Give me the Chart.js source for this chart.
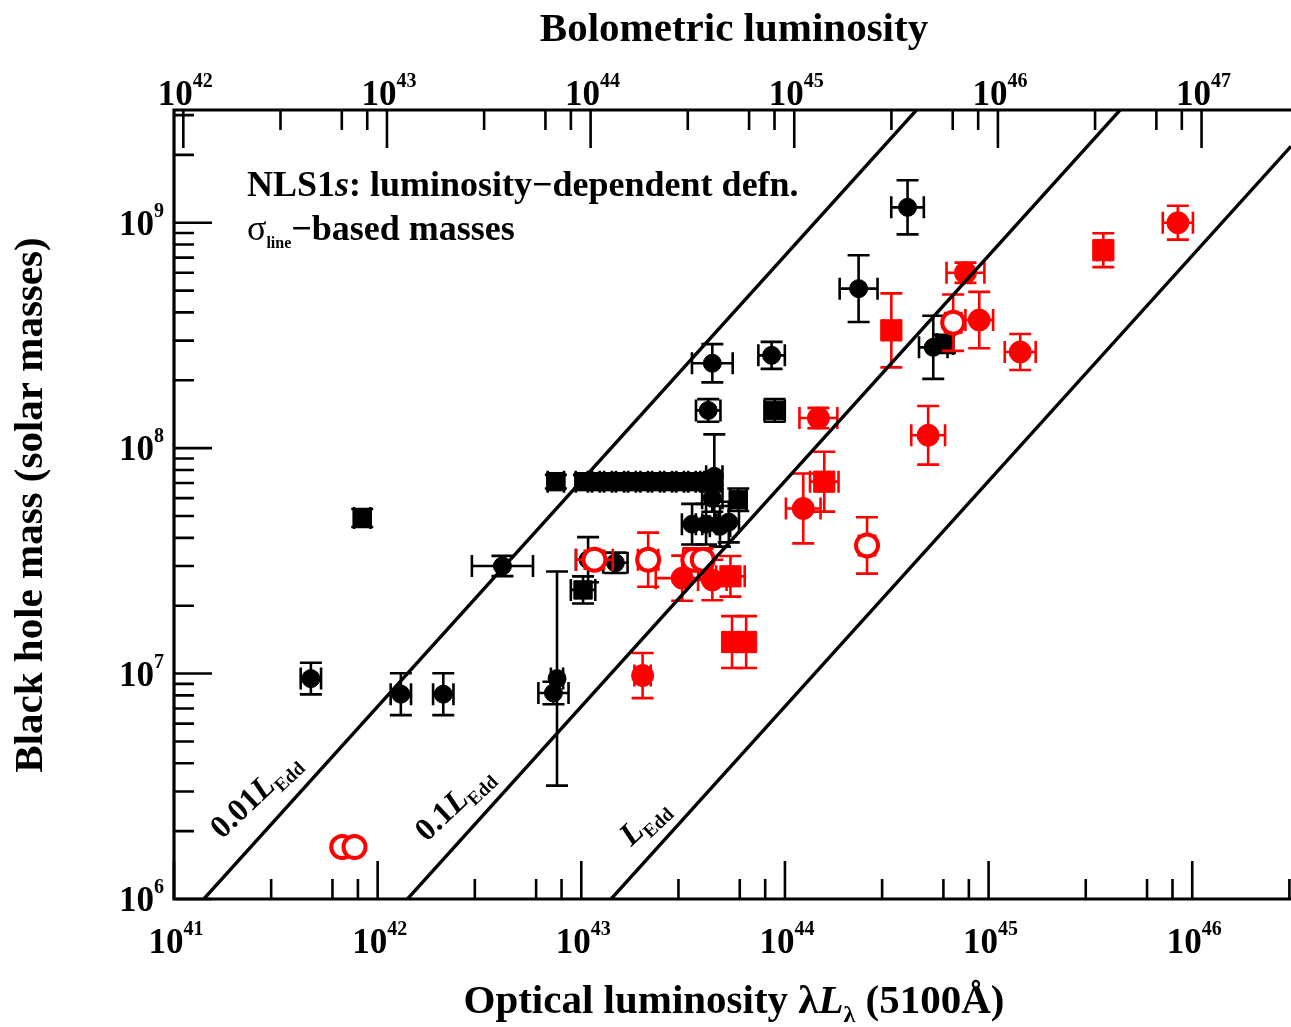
<!DOCTYPE html>
<html>
<head>
<meta charset="utf-8">
<script src="https://cdn.jsdelivr.net/npm/chart.js@4.4.0/dist/chart.umd.min.js"></script>
<style>
    html, body { margin: 0; padding: 0; background: #fff; overflow: hidden; }
</style>
</head>
<body>
<canvas id="massChart" width="1291" height="1027"></canvas>
<script>
// Axis ranges (optical luminosity, black hole mass); the x range is cut at the page edge
const X_MIN = 1e41, X_MAX = Math.pow(10, 46.485);
const Y_MIN = 1e6, Y_MAX = Math.pow(10, 9.5);
const BOL_CORR = 9;            // L_bol = 9 * lambda L_lambda
const EDD_PER_MSUN = 1.26e38;  // erg/s per solar mass

const bottomExponents = [41, 42, 43, 44, 45, 46];
const topExponents = [42, 43, 44, 45, 46, 47];
const leftExponents = [6, 7, 8, 9];

// points: [lambda L_lambda, M_BH, x error (dex), y error (dex)]
const blackCircles = [
    [4.7e41, 9.5e6, 0.05, 0.07],
    [4.1e42, 3.0e7, 0.15, 0.045],
    [1.3e42, 8.1e6, 0.05, 0.093],
    [2.1e42, 8.1e6, 0.05, 0.093],
    [7.6e42, 9.5e6, 0.03, 0.475],
    [7.3e42, 8.2e6, 0.074, 0.05],
    [1.47e43, 3.1e7, 0.06, 0.045],
    [1.08e43, 3.2e7, 0.06, 0.1],
    [4.5e43, 7.5e7, 0.04, 0.186],
    [4.2e43, 1.47e8, 0.06, 0.05],
    [4.4e43, 2.38e8, 0.1, 0.085],
    [8.6e43, 2.58e8, 0.065, 0.06],
    [4.4e43, 6.0e7, 0.05, 0.06],
    [3.5e43, 4.6e7, 0.05, 0.09],
    [4.1e43, 4.6e7, 0.05, 0.09],
    [4.8e43, 4.5e7, 0.05, 0.09],
    [5.3e43, 4.7e7, 0.05, 0.09],
    [2.3e44, 5.1e8, 0.093, 0.148],
    [4.0e44, 1.17e9, 0.08, 0.12],
    [5.35e44, 2.8e8, 0.07, 0.14]
];

const blackSquares = [
    [8.4e41, 4.9e7, 0.04, 0.04],
    [1.02e43, 2.35e7, 0.06, 0.06],
    [7.5e42, 7.1e7, 0.04, 0.03],
    [1.03e43, 7.1e7, 0.04, 0.03],
    [1.18e43, 7.1e7, 0.04, 0.03],
    [1.35e43, 7.1e7, 0.04, 0.03],
    [1.55e43, 7.1e7, 0.04, 0.03],
    [1.78e43, 7.1e7, 0.04, 0.03],
    [2.03e43, 7.1e7, 0.04, 0.03],
    [2.33e43, 7.1e7, 0.04, 0.03],
    [2.67e43, 7.1e7, 0.04, 0.03],
    [3.06e43, 7.1e7, 0.04, 0.03],
    [3.5e43, 7.1e7, 0.04, 0.03],
    [4.0e43, 7.1e7, 0.04, 0.03],
    [4.4e43, 7.1e7, 0.04, 0.03],
    [8.9e43, 1.47e8, 0.05, 0.05],
    [5.9e43, 5.9e7, 0.04, 0.05],
    [6.1e44, 2.9e8, 0.04, 0.04]
];

const redCircles = [
    [3.13e43, 2.65e7, 0.13, 0.1],
    [4.4e43, 2.6e7, 0.07, 0.09],
    [2.0e43, 9.8e6, 0.04, 0.1],
    [1.23e44, 5.4e7, 0.085, 0.155],
    [1.46e44, 1.36e8, 0.093, 0.045],
    [5.05e44, 1.14e8, 0.083, 0.13],
    [7.7e44, 6.0e8, 0.093, 0.045],
    [9.0e44, 3.7e8, 0.068, 0.125],
    [1.43e45, 2.67e8, 0.076, 0.08],
    [8.5e45, 1.0e9, 0.074, 0.075]
];

const redSquares = [
    [5.4e43, 2.7e7, 0.07, 0.09],
    [5.5e43, 1.38e7, 0.04, 0.115],
    [6.45e43, 1.38e7, 0.04, 0.115],
    [1.56e44, 7.1e7, 0.07, 0.133],
    [3.33e44, 3.33e8, 0.04, 0.164],
    [3.66e45, 7.55e8, 0.03, 0.075]
];

const redOpen = [
    [6.7e41, 1.7e6, 0, 0],
    [7.7e41, 1.7e6, 0, 0],
    [1.16e43, 3.2e7, 0.09, 0.04],
    [2.13e43, 3.2e7, 0.05, 0.12],
    [3.55e43, 3.2e7, 0.05, 0.05],
    [3.95e43, 3.2e7, 0.04, 0.05],
    [2.53e44, 3.7e7, 0.04, 0.125],
    [6.7e44, 3.6e8, 0.04, 0.125]
];

// Eddington-ratio lines and their labels (label start in data coords)
const eddFractions = [0.01, 0.1, 1];
const eddPrefixes = ['0.01', '0.1', ''];
const eddLabelAnchors = [[1.72e41, 1.83e6], [1.74e42, 1.78e6], [1.76e43, 1.70e6]];

const SERIF = '"Liberation Serif", "Times New Roman", serif';
const F = (size, style) => `${style || 'bold'} ${size}px ${SERIF}`;

function toXY(rows) {
    return rows.map(r => ({ x: r[0], y: r[1] }));
}

function eddLine(f) {
    const massAt = L => L * BOL_CORR / (f * EDD_PER_MSUN);
    return [{ x: X_MIN, y: massAt(X_MIN) }, { x: X_MAX, y: massAt(X_MAX) }];
}

function logTicks(min, max) {
    const out = [];
    for (let e = Math.floor(Math.log10(min)); e <= Math.ceil(Math.log10(max)); e++) {
        for (let m = 1; m <= 9; m++) {
            const v = m * Math.pow(10, e);
            if (v >= min * 0.9999 && v <= max * 1.0001) out.push({ value: v, major: m === 1 });
        }
    }
    return out;
}

function drawRich(ctx, segs, x, y, align) {
    let total = 0;
    segs.forEach(s => { ctx.font = s.font; s.w = ctx.measureText(s.t).width; total += s.w; });
    let cx = align === 'center' ? x - total / 2 : align === 'right' ? x - total : x;
    segs.forEach(s => {
        ctx.font = s.font;
        ctx.fillText(s.t, cx, y + (s.dy || 0));
        cx += s.w;
    });
}

function powLabel(e) {
    return [{ t: '10', font: F(35) }, { t: String(e), font: F(20), dy: -18 }];
}

// error bars drawn under each dataset's markers
const errorBarsPlugin = {
    id: 'errorBars',
    beforeDatasetDraw(chart, args) {
        const ds = chart.data.datasets[args.index];
        if (!ds.errors) return;
        const xs = chart.scales.x, ys = chart.scales.y, ctx = chart.ctx;
        const cap = 11;
        ctx.save();
        ctx.strokeStyle = ds.borderColor;
        ctx.lineWidth = 2.6;
        ds.data.forEach((p, i) => {
            const [ex, ey] = ds.errors[i];
            const px = xs.getPixelForValue(p.x), py = ys.getPixelForValue(p.y);
            ctx.beginPath();
            if (ex > 0) {
                const x0 = xs.getPixelForValue(p.x / Math.pow(10, ex));
                const x1 = xs.getPixelForValue(p.x * Math.pow(10, ex));
                ctx.moveTo(x0, py); ctx.lineTo(x1, py);
                ctx.moveTo(x0, py - cap); ctx.lineTo(x0, py + cap);
                ctx.moveTo(x1, py - cap); ctx.lineTo(x1, py + cap);
            }
            if (ey > 0) {
                const y0 = ys.getPixelForValue(p.y / Math.pow(10, ey));
                const y1 = ys.getPixelForValue(p.y * Math.pow(10, ey));
                ctx.moveTo(px, y0); ctx.lineTo(px, y1);
                ctx.moveTo(px - cap, y0); ctx.lineTo(px + cap, y0);
                ctx.moveTo(px - cap, y1); ctx.lineTo(px + cap, y1);
            }
            ctx.stroke();
        });
        ctx.restore();
    }
};

// frame, inward ticks, labels and annotations
const framePlugin = {
    id: 'frame',
    afterDraw(chart) {
        const ctx = chart.ctx;
        const { left, right, top, bottom } = chart.chartArea;
        const xs = chart.scales.x, xt = chart.scales.xTop, ys = chart.scales.y;
        const MAJOR = 38, MINOR = 20;
        ctx.save();
        ctx.strokeStyle = '#000';
        ctx.fillStyle = '#000';

        ctx.lineWidth = 2.6;
        ctx.beginPath();
        xs.ticks.forEach(t => {
            const px = xs.getPixelForValue(t.value);
            const len = t.major ? MAJOR : MINOR;
            ctx.moveTo(px, bottom); ctx.lineTo(px, bottom - len);
        });
        xt.ticks.forEach(t => {
            const px = xt.getPixelForValue(t.value);
            const len = t.major ? MAJOR : MINOR;
            ctx.moveTo(px, top); ctx.lineTo(px, top + len);
        });
        ys.ticks.forEach(t => {
            const py = ys.getPixelForValue(t.value);
            const len = t.major ? MAJOR : MINOR;
            ctx.moveTo(left, py); ctx.lineTo(left + len, py);
        });
        ctx.stroke();

        // frame: the right side lies just past the page edge
        ctx.lineWidth = 3.2;
        ctx.beginPath();
        ctx.moveTo(right + 2, top); ctx.lineTo(left, top);
        ctx.lineTo(left, bottom); ctx.lineTo(right + 2, bottom);
        ctx.stroke();

        ctx.textAlign = 'left';
        ctx.textBaseline = 'alphabetic';
        bottomExponents.forEach(e => {
            drawRich(ctx, powLabel(e), xs.getPixelForValue(Math.pow(10, e)) + 2, 953, 'center');
        });
        topExponents.forEach(e => {
            drawRich(ctx, powLabel(e), xt.getPixelForValue(Math.pow(10, e)) + 2, 105, 'center');
        });
        leftExponents.forEach(e => {
            drawRich(ctx, powLabel(e), 164, ys.getPixelForValue(Math.pow(10, e)) + 12, 'right');
        });

        // axis titles
        drawRich(ctx, [{ t: 'Bolometric luminosity', font: F(41) }], 734, 41, 'center');
        drawRich(ctx, [
            { t: 'Optical luminosity \u03bb', font: F(41) },
            { t: 'L', font: F(41, 'bold italic') },
            { t: '\u03bb', font: F(24), dy: 9 },
            { t: ' (5100\u00c5)', font: F(41) }
        ], 734, 1013, 'center');
        ctx.save();
        ctx.translate(42, 505);
        ctx.rotate(-Math.PI / 2);
        drawRich(ctx, [{ t: 'Black hole mass (solar masses)', font: F(41) }], 0, 0, 'center');
        ctx.restore();

        // annotation
        drawRich(ctx, [
            { t: 'NLS1', font: F(36) },
            { t: 's', font: F(36, 'bold italic') },
            { t: ': luminosity\u2212dependent defn.', font: F(36) }
        ], 247, 196, 'left');
        drawRich(ctx, [
            { t: '\u03c3', font: F(36, 'normal') },
            { t: 'line', font: F(16) , dy: 8 },
            { t: '\u2212based masses', font: F(36) }
        ], 247, 240, 'left');

        // Eddington line labels
        eddLabelAnchors.forEach((a, i) => {
            ctx.save();
            ctx.translate(xs.getPixelForValue(a[0]), ys.getPixelForValue(a[1]));
            ctx.rotate(-0.76);
            const segs = [];
            if (eddPrefixes[i]) segs.push({ t: eddPrefixes[i], font: F(32) });
            segs.push({ t: 'L', font: F(32, 'bold italic') });
            segs.push({ t: 'Edd', font: F(19), dy: 7 });
            drawRich(ctx, segs, 0, 0, 'left');
            ctx.restore();
        });
        ctx.restore();
    }
};

const lineStyle = {
    type: 'line', showLine: true, borderColor: '#000', borderWidth: 3.4,
    pointRadius: 0, fill: false, tension: 0
};

const datasets = [
    ...eddFractions.map(f => Object.assign({ data: eddLine(f) }, lineStyle)),
    {
        data: toXY(redOpen), errors: redOpen.map(r => [r[2], r[3]]),
        pointStyle: 'circle', pointRadius: 11, borderWidth: 4,
        borderColor: '#ff0000', backgroundColor: '#ffffff'
    },
    {
        data: toXY(redCircles), errors: redCircles.map(r => [r[2], r[3]]),
        pointStyle: 'circle', pointRadius: 11, borderWidth: 1,
        borderColor: '#ff0000', backgroundColor: '#ff0000'
    },
    {
        data: toXY(redSquares), errors: redSquares.map(r => [r[2], r[3]]),
        pointStyle: 'rect', pointRadius: 15, borderWidth: 1,
        borderColor: '#ff0000', backgroundColor: '#ff0000'
    },
    {
        data: toXY(blackCircles), errors: blackCircles.map(r => [r[2], r[3]]),
        pointStyle: 'circle', pointRadius: 9, borderWidth: 1,
        borderColor: '#000000', backgroundColor: '#000000'
    },
    {
        data: toXY(blackSquares), errors: blackSquares.map(r => [r[2], r[3]]),
        pointStyle: 'rect', pointRadius: 13, borderWidth: 1,
        borderColor: '#000000', backgroundColor: '#000000'
    }
];

const setTicks = scale => { scale.ticks = logTicks(scale.min, scale.max); };

new Chart(document.getElementById('massChart'), {
    type: 'scatter',
    data: { datasets },
    options: {
        responsive: false,
        animation: false,
        events: [],
        layout: { autoPadding: false, padding: { left: 174, right: 0, top: 110, bottom: 128 } },
        plugins: { legend: { display: false }, tooltip: { enabled: false } },
        scales: {
            x: { type: 'logarithmic', min: X_MIN, max: X_MAX, display: false, afterBuildTicks: setTicks },
            xTop: { type: 'logarithmic', position: 'top', min: X_MIN * BOL_CORR, max: X_MAX * BOL_CORR, display: false, afterBuildTicks: setTicks },
            y: { type: 'logarithmic', min: Y_MIN, max: Y_MAX, display: false, afterBuildTicks: setTicks }
        }
    },
    plugins: [errorBarsPlugin, framePlugin]
});
</script>
</body>
</html>
